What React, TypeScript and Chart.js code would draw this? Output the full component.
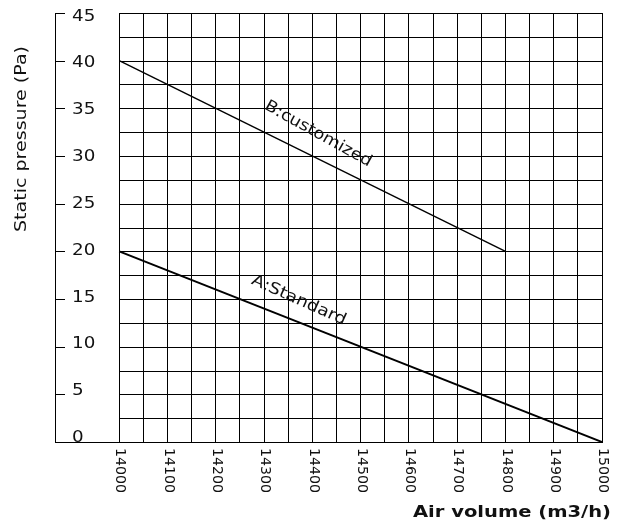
import React, { useEffect, useRef } from 'react';
import { Chart, registerables } from 'chart.js';

Chart.register(...registerables);

// Data
const standardFlow = [14000, 15000];
const standardPressure = [20, 0];
const customFlow = [14000, 14800];
const customPressure = [40, 20];

// Ticks / grid
const xTickLabels = [14000, 14100, 14200, 14300, 14400, 14500, 14600, 14700, 14800, 14900, 15000];
const xGridValues = [14000, 14050, 14100, 14150, 14200, 14250, 14300, 14350, 14400, 14450, 14500, 14550, 14600, 14650, 14700, 14750, 14800, 14850, 14900, 14950, 15000];
const yTickLabels = [0, 5, 10, 15, 20, 25, 30, 35, 40, 45];
const yGridValues = [0, 2.5, 5, 7.5, 10, 12.5, 15, 17.5, 20, 22.5, 25, 27.5, 30, 32.5, 35, 37.5, 40, 42.5, 45];

// Line annotations: text, anchor flow, anchor pressure, angle (deg)
const lineLabelTexts = ['B:customized', 'A:Standard'];
const lineLabelFlow = [14412, 14372];
const lineLabelPressure = [32.3, 14.85];
const lineLabelAngle = [29, 24];
const lineLabelLength = [120, 102];

const xTitle = 'Air volume (m3/h)';
const yTitle = 'Static pressure (Pa)';

const FONT = '"DejaVu Sans", Verdana, sans-serif';

function fillFitted(ctx: CanvasRenderingContext2D, text: string, target: number, align: CanvasTextAlign) {
  const w = ctx.measureText(text).width;
  const sx = target / w;
  ctx.save();
  ctx.scale(sx, 1);
  ctx.textAlign = align;
  ctx.fillText(text, 0, 0);
  ctx.restore();
}

const customPlugin = {
  id: 'customAxes',
  beforeDatasetsDraw(chart: any) {
    const { ctx, scales } = chart;
    const x = scales.x;
    const y = scales.y;
    const x0 = Math.round(x.getPixelForValue(xGridValues[0]));
    const x1 = Math.round(x.getPixelForValue(xGridValues[xGridValues.length - 1])) + 1;
    ctx.save();
    ctx.strokeStyle = '#000';
    ctx.lineWidth = 1;
    yGridValues.forEach((v) => {
      const py = Math.round(y.getPixelForValue(v)) + 0.5;
      ctx.beginPath();
      ctx.moveTo(x0, py);
      ctx.lineTo(x1, py);
      ctx.stroke();
    });
    const left = chart.chartArea.left;
    yTickLabels.forEach((v) => {
      const py = Math.round(y.getPixelForValue(v)) + 0.5;
      ctx.beginPath();
      ctx.moveTo(left, py);
      ctx.lineTo(left + 10, py);
      ctx.stroke();
    });
    ctx.restore();
  },
  afterDraw(chart: any) {
    const { ctx, scales } = chart;
    const x = scales.x;
    const y = scales.y;
    ctx.save();
    ctx.fillStyle = '#111';

    // y tick labels (wide)
    ctx.font = `15px ${FONT}`;
    ctx.textBaseline = 'alphabetic';
    yTickLabels.forEach((v) => {
      const py = y.getPixelForValue(v) + v * 0.17;
      ctx.save();
      ctx.translate(72, py);
      ctx.scale(1.22, 1);
      ctx.textAlign = 'left';
      ctx.fillText(String(v), 0, 0);
      ctx.restore();
    });

    // x tick labels (rotated clockwise)
    ctx.font = `14.5px ${FONT}`;
    const axisBottom = chart.chartArea.bottom;
    xTickLabels.forEach((v) => {
      ctx.save();
      ctx.translate(x.getPixelForValue(v) + 1, axisBottom + 6);
      ctx.rotate(Math.PI / 2);
      ctx.textAlign = 'left';
      ctx.textBaseline = 'middle';
      fillFitted(ctx, String(v), 45, 'left');
      ctx.restore();
    });

    // y title
    ctx.save();
    ctx.font = `15px ${FONT}`;
    ctx.translate(25.5, 139);
    ctx.rotate(-Math.PI / 2);
    ctx.textBaseline = 'alphabetic';
    fillFitted(ctx, yTitle, 186, 'center');
    ctx.restore();

    // x title
    ctx.save();
    ctx.font = `bold 16px ${FONT}`;
    ctx.translate(611, 517);
    ctx.textBaseline = 'alphabetic';
    fillFitted(ctx, xTitle, 198, 'right');
    ctx.restore();

    // line labels
    lineLabelTexts.forEach((t, i) => {
      ctx.save();
      ctx.font = `16px ${FONT}`;
      ctx.translate(x.getPixelForValue(lineLabelFlow[i]), y.getPixelForValue(lineLabelPressure[i]));
      ctx.rotate((lineLabelAngle[i] * Math.PI) / 180);
      ctx.textBaseline = 'middle';
      fillFitted(ctx, t, lineLabelLength[i], 'center');
      ctx.restore();
    });

    ctx.restore();
  },
};

export default function App() {
  const canvasRef = useRef<HTMLCanvasElement | null>(null);

  useEffect(() => {
    if (!canvasRef.current) return;
    const chart = new Chart(canvasRef.current, {
      type: 'line',
      data: {
        datasets: [
          {
            label: 'B:customized',
            data: customFlow.map((f, i) => ({ x: f, y: customPressure[i] })),
            borderColor: '#000',
            borderWidth: 1.4,
            pointRadius: 0,
            fill: false,
            tension: 0,
          },
          {
            label: 'A:Standard',
            data: standardFlow.map((f, i) => ({ x: f, y: standardPressure[i] })),
            borderColor: '#000',
            borderWidth: 2,
            pointRadius: 0,
            fill: false,
            tension: 0,
          },
        ],
      },
      options: {
        animation: false,
        responsive: true,
        maintainAspectRatio: false,
        layout: { padding: { left: 55, top: 13, right: 17, bottom: 80 } },
        plugins: {
          legend: { display: false },
          tooltip: { enabled: false },
          title: { display: false },
        },
        scales: {
          x: {
            type: 'linear',
            min: 13867,
            max: 15000,
            afterBuildTicks: (scale: any) => {
              scale.ticks = xGridValues.map((value) => ({ value }));
            },
            grid: { display: true, color: '#000', lineWidth: 1, drawTicks: false, drawOnChartArea: true },
            border: { display: true, color: '#000', width: 1 },
            ticks: { display: false },
          },
          y: {
            type: 'linear',
            min: 0,
            max: 45,
            grid: { display: true, drawOnChartArea: false, drawTicks: false },
            border: { display: true, color: '#000', width: 1 },
            ticks: { display: false },
          },
        },
      },
      plugins: [customPlugin],
    });
    return () => chart.destroy();
  }, []);

  return (
    <div style={{ position: 'fixed', left: 0, top: 0, width: 619, height: 522, background: '#fff' }}>
      <canvas ref={canvasRef} />
    </div>
  );
}
